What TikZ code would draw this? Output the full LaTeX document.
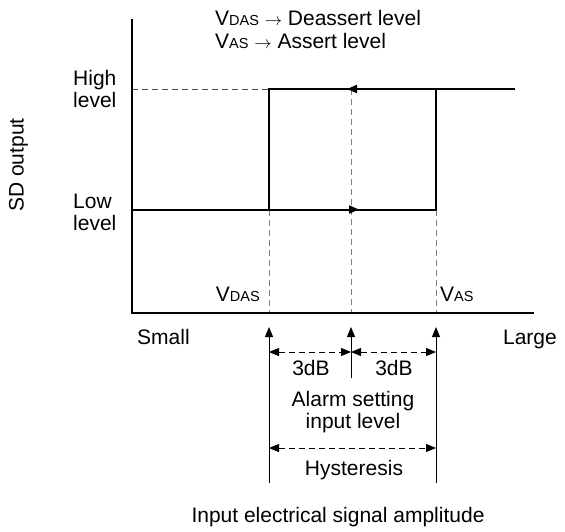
\documentclass[tikz,border=0pt]{standalone}
\usepackage{fontspec}
\setmainfont{Liberation Sans}
\usetikzlibrary{arrows.meta}
\newcommand{\smc}[1]{{\fontsize{14.5}{14.5}\selectfont #1}}
\newcommand{\rarr}{{\fontsize{16}{16}\selectfont$\rightarrow$}}
\begin{document}
\begin{tikzpicture}[x=1pt,y=-1pt,
  lbl/.style={inner sep=0pt, font=\fontsize{21}{22}\selectfont},
  axis/.style={line width=1.6pt},
  curve/.style={line width=2pt, line join=miter},
  guide/.style={gray, line width=0.9pt, dash pattern=on 6pt off 4pt},
  thinline/.style={line width=0.9pt},
  dimarrow/.style={line width=0.9pt, dash pattern=on 6pt off 4pt, {Triangle[length=10pt,width=8pt]}-{Triangle[length=10pt,width=8pt]}},
  tipend/.style={-{Triangle[length=10pt,width=8pt]}}]
\useasboundingbox (0,0) rectangle (565,532);
% coordinates
\coordinate (O) at (132,313);
\coordinate (Ytop) at (132,19);
\coordinate (Xend) at (534,313);
\coordinate (HL) at (132,89);
\coordinate (H1) at (269,89);
\coordinate (H2) at (436,89);
\coordinate (H3) at (515,89);
\coordinate (L0) at (132,209.5);
\coordinate (L1) at (269,209.5);
\coordinate (L2) at (436,209.5);
\coordinate (M) at (351,89);
\coordinate (MB) at (351,313);
\coordinate (D1) at (269,313);
\coordinate (D2) at (436,313);
\coordinate (A1) at (269,327);
\coordinate (A2) at (351,327);
\coordinate (A3) at (436,327);
\coordinate (B1) at (269,483);
\coordinate (B2) at (351,378);
\coordinate (B3) at (436,483);
\coordinate (E1) at (269,352);
\coordinate (E2) at (351,352);
\coordinate (E3) at (436,352);
\coordinate (F1) at (269,448);
\coordinate (F3) at (436,448);
\coordinate (LA0) at (340,209.5);
\coordinate (LA1) at (359,209.5);
\coordinate (HA0) at (362,89);
\coordinate (HA1) at (347,89);
% guides
\draw[guide, gray!60!black] (HL) -- (H1);
\draw[guide] (M) -- (MB);
\draw[guide] (L1) -- (D1);
\draw[guide] (L2) -- (D2);
% axes
\draw[axis] (Ytop) -- (O) -- (Xend);
% hysteresis curve
\draw[curve] (L0) -- (L2) -- (H2);
\draw[curve] (L1) -- (H1) -- (H3);
\draw[curve, tipend] (LA0) -- (LA1);
\draw[curve, tipend] (HA0) -- (HA1);
% lower construction
\draw[thinline, tipend] (B1) -- (A1);
\draw[thinline, tipend] (B2) -- (A2);
\draw[thinline, tipend] (B3) -- (A3);
\draw[dimarrow] (E1) -- (E2);
\draw[dimarrow] (E2) -- (E3);
\draw[dimarrow] (F1) -- (F3);
% labels
\node[lbl, anchor=base west] (t1) at (215,26) {V\smc{DAS} \rarr{} Deassert level};
\node[lbl, anchor=base west] (t2) at (215,49) {V\smc{AS} \rarr{} Assert level};
\node[lbl, anchor=base west] (hi1) at (73,86) {High};
\node[lbl, anchor=base west] (hi2) at (73,108) {level};
\node[lbl, anchor=base west] (lo1) at (73,208) {Low};
\node[lbl, anchor=base west] (lo2) at (73,230) {level};
\node[lbl, rotate=90, anchor=base] (sd) at (23.5,165) {SD output};
\node[lbl, anchor=base east] (vdas) at (260,301) {V\smc{DAS}};
\node[lbl, anchor=base west] (vas) at (440,301) {V\smc{AS}};
\node[lbl, anchor=base west] (small) at (137,344) {Small};
\node[lbl, anchor=base east] (large) at (557,344) {Large};
\node[lbl, anchor=base] (db1) at (311,375) {3dB};
\node[lbl, anchor=base] (db2) at (394,375) {3dB};
\node[lbl, anchor=base] (al1) at (353,406) {Alarm setting};
\node[lbl, anchor=base] (al2) at (353,428) {input level};
\node[lbl, anchor=base] (hy) at (354,475) {Hysteresis};
\node[lbl, anchor=base] (xl) at (338,522) {Input electrical signal amplitude};
\end{tikzpicture}
\end{document}
